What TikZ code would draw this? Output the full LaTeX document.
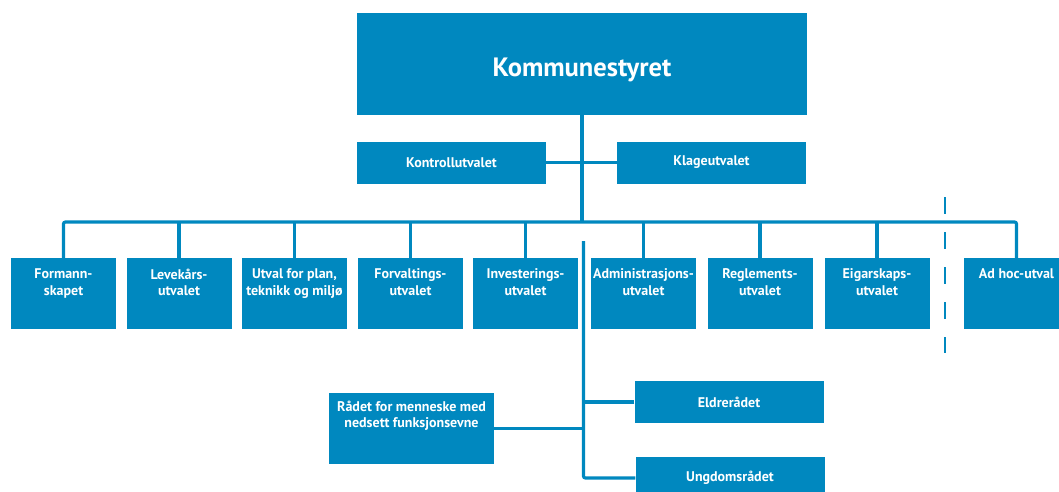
\documentclass[tikz,border=0pt]{standalone}
\usepackage{fontspec}
\setmainfont{PT Sans}
\definecolor{kblue}{RGB}{0,136,191}
\tikzset{
  box/.style={fill=kblue, draw=none, inner sep=0pt},
  tallbox/.style={box, minimum width=105pt, minimum height=71pt},
  widebox/.style={box, minimum width=189pt, minimum height=42pt, font=\bfseries\fontsize{14}{17}\selectfont, text=white},
  lbl/.style={text=white, font=\bfseries\fontsize{14}{16.5}\selectfont, align=center, inner sep=0pt},
  conn/.style={draw=kblue, line width=3.2pt, rounded corners=2pt},
}
\begin{document}
\begin{tikzpicture}[x=1pt,y=-1pt]
\clip (0,0) rectangle (1059,491);
\fill[white] (0,0) rectangle (1059,491);

% top
\node[box, minimum width=450pt, minimum height=102pt] (komm) at (582,64) {};
\node[text=white, inner sep=0pt, font=\bfseries\fontsize{26.5}{30}\selectfont] (komm-t) at (582,70) {Kommunestyret};
\node[widebox] (kontroll) at (451.5,162.5) {Kontrollutvalet};
\node[widebox] (klage) at (711.5,162.5) {Klageutvalet};

% committee row
\foreach \n/\x/\t in {form/63.5/{Formann-\\skapet},
                      lev/179/{Levekårs-\\utvalet},
                      plan/294.5/{Utval for plan,\\teknikk og miljø},
                      forv/410.5/{Forvaltings-\\utvalet},
                      inv/525.5/{Investerings-\\utvalet},
                      adm/643.5/{Administrasjons-\\utvalet},
                      regl/760/{Reglements-\\utvalet},
                      eig/877/{Eigarskaps-\\utvalet},
                      adhoc/1016.5/{Ad hoc-utval}}{
  \node[tallbox, label={[lbl, name=\n-t, anchor=north, yshift=-11pt]north:\t}] (\n) at (\x,293.5) {};
}

% bottom
\node[box, minimum width=165pt, minimum height=71pt] (raad) at (411.5,428.5) {};
\node[lbl, anchor=north] (raad-t) at ([yshift=-8pt]raad.north) {Rådet for menneske med\\nedsett funksjonsevne};
\node[widebox] (eldre) at (729,402) {Eldrerådet};
\node[widebox, text height=9pt] (ungdom) at (730,478) {Ungdomsrådet};

% connectors
\coordinate (busy) at (582,222);
\coordinate (ltop) at (583.5,241);
\draw[conn] (komm.south) -- (komm.south |- busy);
\draw[conn] (kontroll.east) -- (klage.west);
\draw[conn] (form.north) |- (adhoc.north |- busy) -- (adhoc.north);
\foreach \n in {lev,plan,forv,inv,adm,regl,eig}{
  \draw[conn] (\n.north) -- (\n.north |- busy);
}
\draw[conn] (ltop) -- (ltop |- ungdom.west) -- (ungdom.west);
\draw[conn] (eldre.west) -- (eldre.west -| ltop);
\draw[conn] (raad.east) -- (raad.east -| ltop);

% dashed separator
\coordinate (dtop) at (945,197);
\coordinate (dbot) at (945,353);
\draw[draw=kblue, line width=2.6pt, dash pattern=on 17pt off 18pt] (dtop) -- (dbot);
\end{tikzpicture}
\end{document}
